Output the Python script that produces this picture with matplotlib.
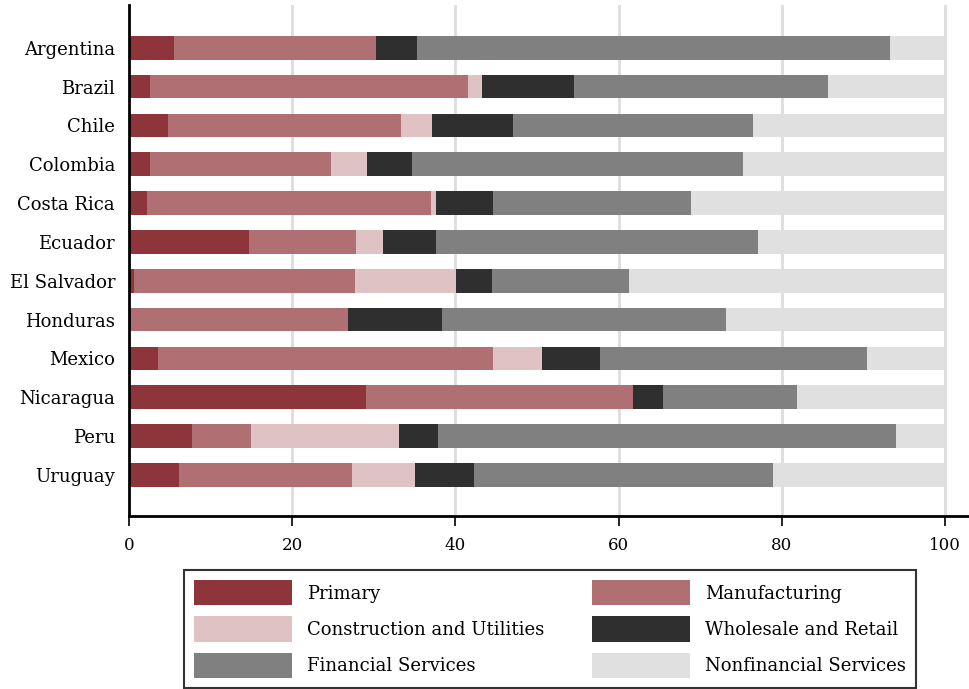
import numpy as np
import matplotlib
matplotlib.use("Agg")
import matplotlib.pyplot as plt

countries = ["Argentina", "Brazil", "Chile", "Colombia", "Costa Rica", "Ecuador",
             "El Salvador", "Honduras", "Mexico", "Nicaragua", "Peru", "Uruguay"]

# sector shares (%)
primary = [5.5, 2.6, 4.8, 2.6, 2.2, 14.7, 0.6, 0.0, 3.6, 29.0, 7.7, 6.1]
manufacturing = [24.8, 38.9, 28.5, 22.2, 34.8, 13.1, 27.1, 26.8, 41.0, 32.8, 7.2, 21.2]
construction = [0.0, 1.8, 3.8, 4.4, 0.6, 3.3, 12.4, 0.0, 6.0, 0.0, 18.2, 7.7]
wholesale = [5.0, 11.2, 10.0, 5.5, 7.0, 6.5, 4.4, 11.6, 7.1, 3.6, 4.8, 7.3]
financial = [58.0, 31.2, 29.4, 40.5, 24.2, 39.5, 16.8, 34.7, 32.7, 16.5, 56.1, 36.6]
nonfinancial = [6.7, 14.3, 23.5, 24.8, 31.2, 22.9, 38.7, 26.9, 9.6, 18.1, 6.0, 21.1]

sectors = [
    ("Primary", primary, "#8e353c"),
    ("Manufacturing", manufacturing, "#b07073"),
    ("Construction and Utilities", construction, "#dfc2c4"),
    ("Wholesale and Retail", wholesale, "#2f2f2f"),
    ("Financial Services", financial, "#808080"),
    ("Nonfinancial Services", nonfinancial, "#e0e0e0"),
]

plt.rcParams['font.family'] = ['DejaVu Serif']

fig = plt.figure(figsize=(9.69, 6.89), dpi=100)
ax = fig.add_axes([129 / 969, 173 / 689, 839 / 969, 511 / 689])

y = np.arange(len(countries))
left = np.zeros(len(countries))
bars = []
for name, vals, col in sectors:
    vals = np.array(vals)
    b = ax.barh(y, vals, left=left, height=0.61, color=col, label=name, zorder=2)
    bars.append(b)
    left += vals

ax.set_xlim(0, 102.8)
ax.set_ylim(len(countries) - 1 + 1.06, -1.1)
ax.set_xticks([0, 20, 40, 60, 80, 100])
ax.set_yticks(y)
ax.set_yticklabels(countries)
ax.tick_params(axis='x', length=7, width=1.2, labelsize=12, pad=8)
ax.tick_params(axis='y', length=0, labelsize=13, pad=10)
ax.grid(axis='x', color='#dddddd', linewidth=2, zorder=0)
ax.set_axisbelow(True)

for s in ['top', 'right']:
    ax.spines[s].set_visible(False)
ax.spines['left'].set_linewidth(2)
ax.spines['bottom'].set_linewidth(2)

# legend filled row by row: reorder for matplotlib's column-wise fill
order = [0, 2, 4, 1, 3, 5]
handles = [bars[i] for i in order]
labels = [sectors[i][0] for i in order]
leg = fig.legend(handles, labels, loc='upper center',
                 bbox_to_anchor=(550 / 969, 1 - 570 / 689),
                 ncol=2, fontsize=13, frameon=True, fancybox=False,
                 edgecolor='black', handlelength=5.45, handleheight=1.8,
                 handletextpad=0.83, columnspacing=2.6, labelspacing=0.6,
                 borderpad=0.55, borderaxespad=0)
leg.get_frame().set_linewidth(1.5)

plt.savefig("out.png", dpi=100)
